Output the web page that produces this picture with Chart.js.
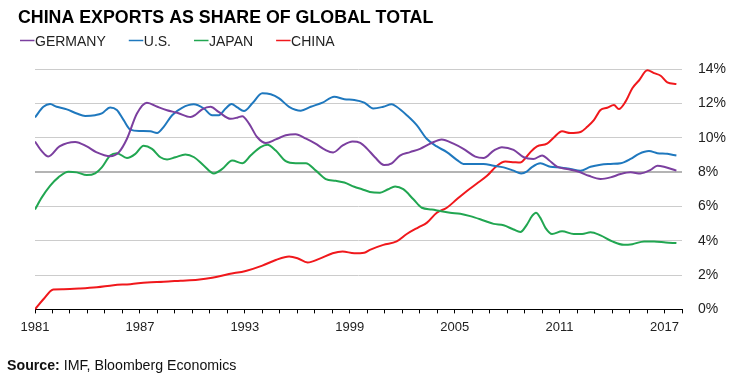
<!DOCTYPE html>
<html>
<head>
<meta charset="utf-8">
<script src="https://cdn.jsdelivr.net/npm/chart.js@4/dist/chart.umd.min.js"></script>
<style>
  html, body { margin: 0; padding: 0; background: #fff; }
  #wrap { width: 735px; height: 390px; position: relative; }
</style>
</head>
<body>
<div id="wrap"><canvas id="c" width="735" height="390"></canvas></div>
<script>
// ---- Data ----
const chartTitle = 'CHINA EXPORTS AS SHARE OF GLOBAL TOTAL';
const seriesNames = ['GERMANY', 'U.S.', 'JAPAN', 'CHINA'];
const xTickLabels = [1981, 1987, 1993, 1999, 2005, 2011, 2017];
const yTickValues = [0, 2, 4, 6, 8, 10, 12, 14];

const germanyYears = [1981.0, 1981.4, 1981.76, 1982.4, 1983.3, 1983.96, 1984.5, 1985.3, 1985.8, 1986.26,
  1986.83, 1987.4, 1988.0, 1988.55, 1989.13, 1989.9, 1990.2, 1990.56, 1991.04, 1991.5,
  1992.19, 1992.6, 1992.85, 1993.24, 1993.7, 1994.2, 1994.77, 1995.34, 1995.9, 1996.5,
  1997.04, 1997.6, 1998.05, 1998.6, 1999.16, 1999.6, 2000.0, 2000.44, 2000.96, 2001.4,
  2001.87, 2002.45, 2003.02, 2003.6, 2004.26, 2004.93, 2005.5, 2006.18, 2006.65, 2007.23,
  2007.7, 2008.37, 2008.95, 2009.5, 2010.0, 2010.38, 2010.85, 2011.43, 2012.1, 2012.67,
  2013.34, 2013.91, 2014.49, 2015.06, 2015.63, 2016.2, 2016.59, 2016.97, 2017.68];
const germanyValues = [9.78, 9.2, 8.9, 9.49, 9.75, 9.49, 9.16, 8.92, 9.16, 9.94,
  11.41, 12.04, 11.8, 11.6, 11.45, 11.2, 11.35, 11.65, 11.8, 11.5,
  11.1, 11.18, 11.25, 10.82, 10.04, 9.69, 9.9, 10.14, 10.2, 9.94,
  9.65, 9.29, 9.14, 9.55, 9.78, 9.7, 9.35, 8.86, 8.41, 8.51,
  8.96, 9.16, 9.35, 9.65, 9.9, 9.65, 9.35, 8.9, 8.82, 9.25,
  9.45, 9.29, 8.86, 8.76, 8.96, 8.7, 8.31, 8.18, 8.02, 7.78,
  7.6, 7.69, 7.88, 7.98, 7.92, 8.12, 8.37, 8.31, 8.08];

const usYears = [1981.0, 1981.48, 1981.86, 1982.24, 1982.82, 1983.39, 1983.87, 1984.44, 1984.82, 1985.3,
  1985.68, 1986.07, 1986.45, 1987.02, 1987.6, 1987.98, 1988.36, 1988.84, 1989.41, 1990.08,
  1990.66, 1991.13, 1991.52, 1991.9, 1992.24, 1992.57, 1992.95, 1993.43, 1994.0, 1994.48,
  1994.96, 1995.53, 1996.2, 1996.77, 1997.44, 1998.11, 1998.69, 1999.26, 1999.83, 2000.34,
  2000.92, 2001.4, 2001.68, 2002.26, 2002.83, 2003.4, 2003.98, 2004.55, 2005.12, 2005.5,
  2006.08, 2006.65, 2007.23, 2007.8, 2008.37, 2008.8, 2009.14, 2009.4, 2009.9, 2010.47,
  2011.05, 2011.62, 2012.19, 2012.77, 2013.34, 2013.91, 2014.49, 2015.06, 2015.54, 2016.11,
  2016.59, 2017.16, 2017.68];
const usValues = [11.18, 11.8, 11.96, 11.8, 11.65, 11.41, 11.27, 11.31, 11.41, 11.76,
  11.61, 11.02, 10.47, 10.39, 10.37, 10.27, 10.63, 11.31, 11.74, 11.94,
  11.7, 11.31, 11.31, 11.7, 11.96, 11.76, 11.55, 12.0, 12.59, 12.53,
  12.29, 11.8, 11.57, 11.8, 12.04, 12.39, 12.24, 12.2, 12.04, 11.7,
  11.8, 11.94, 11.8, 11.31, 10.73, 9.94, 9.49, 9.16, 8.71, 8.47,
  8.47, 8.47, 8.37, 8.27, 8.08, 7.92, 8.04, 8.27, 8.51, 8.31,
  8.27, 8.18, 8.08, 8.31, 8.43, 8.47, 8.51, 8.76, 9.06, 9.22,
  9.1, 9.06, 8.96];

const japanYears = [1981.0, 1981.38, 1981.86, 1982.34, 1982.91, 1983.39, 1983.96, 1984.44, 1984.82, 1985.3,
  1985.68, 1986.26, 1986.74, 1987.21, 1987.69, 1988.17, 1988.55, 1989.03, 1989.6, 1990.1,
  1990.66, 1991.23, 1991.71, 1992.28, 1992.85, 1993.33, 1993.9, 1994.29, 1994.77, 1995.34,
  1995.91, 1996.49, 1997.06, 1997.63, 1998.2, 1998.69, 1999.26, 1999.7, 2000.15, 2000.73,
  2001.2, 2001.59, 2002.06, 2002.64, 2003.12, 2003.69, 2004.17, 2004.74, 2005.32, 2005.89,
  2006.65, 2007.23, 2007.8, 2008.37, 2008.76, 2009.13, 2009.42, 2009.65, 2009.9, 2010.19,
  2010.57, 2011.14, 2011.81, 2012.29, 2012.77, 2013.34, 2014.01, 2014.68, 2015.16, 2015.83,
  2016.4, 2017.07, 2017.68];
const japanValues = [5.82, 6.51, 7.2, 7.69, 8.02, 7.98, 7.82, 7.92, 8.27, 8.96,
  9.1, 8.82, 9.06, 9.53, 9.35, 8.86, 8.73, 8.86, 9.02, 8.86,
  8.37, 7.92, 8.18, 8.67, 8.51, 8.96, 9.45, 9.59, 9.25, 8.63,
  8.51, 8.51, 8.08, 7.59, 7.49, 7.39, 7.14, 7.0, 6.84, 6.8,
  7.0, 7.16, 7.0, 6.41, 5.92, 5.82, 5.73, 5.63, 5.57, 5.43,
  5.18, 4.98, 4.9, 4.65, 4.51, 4.94, 5.43, 5.63, 5.33, 4.75,
  4.39, 4.55, 4.39, 4.39, 4.49, 4.31, 3.96, 3.76, 3.8, 3.96,
  3.96, 3.9, 3.86];

const chinaYears = [1981.0, 1981.48, 1982.05, 1982.63, 1983.58, 1984.54, 1985.49, 1986.45, 1987.41, 1988.36,
  1989.32, 1990.3, 1991.13, 1992.09, 1993.05, 1994.0, 1994.77, 1995.53, 1996.01, 1996.59,
  1997.25, 1998.02, 1998.59, 1999.26, 1999.83, 2000.15, 2000.92, 2001.68, 2002.26, 2002.93,
  2003.4, 2003.98, 2004.55, 2005.12, 2005.7, 2006.27, 2006.85, 2007.42, 2007.9, 2008.4,
  2008.75, 2009.04, 2009.33, 2009.71, 2010.28, 2010.66, 2011.14, 2011.62, 2012.19, 2012.58,
  2012.96, 2013.34, 2013.72, 2014.11, 2014.39, 2014.77, 2015.16, 2015.54, 2016.02, 2016.4,
  2016.78, 2017.16, 2017.68];
const chinaValues = [0.0, 0.59, 1.16, 1.18, 1.22, 1.29, 1.41, 1.47, 1.57, 1.61,
  1.67, 1.73, 1.84, 2.06, 2.24, 2.55, 2.88, 3.08, 2.98, 2.73,
  2.94, 3.27, 3.37, 3.27, 3.3, 3.47, 3.76, 3.96, 4.39, 4.78,
  5.04, 5.63, 5.92, 6.41, 6.9, 7.33, 7.78, 8.37, 8.61, 8.57,
  8.55, 8.8, 9.16, 9.49, 9.65, 10.0, 10.37, 10.27, 10.33, 10.63,
  11.02, 11.61, 11.74, 11.9, 11.67, 12.1, 12.88, 13.33, 13.92, 13.76,
  13.61, 13.22, 13.12];

const seriesColors = ['#7b3f9f', '#1f78be', '#21a651', '#f0181c'];

// ---- Build datasets ----
function toPoints(xs, ys) { return xs.map((x, i) => ({ x: x, y: ys[i] })); }
const allYears = [germanyYears, usYears, japanYears, chinaYears];
const allValues = [germanyValues, usValues, japanValues, chinaValues];
const datasets = seriesNames.map((name, i) => ({
  label: name,
  data: toPoints(allYears[i], allValues[i]),
  borderColor: seriesColors[i],
  backgroundColor: seriesColors[i],
  borderWidth: 2,
  pointRadius: 0,
  fill: false,
  cubicInterpolationMode: 'monotone'
}));

const FONT = '"Liberation Sans", Arial, sans-serif';

const decorPlugin = {
  id: 'decor',
  afterDraw(chart) {
    const ctx = chart.ctx;
    ctx.save();
    // Title
    ctx.fillStyle = '#000';
    ctx.textBaseline = 'alphabetic';
    ctx.textAlign = 'left';
    ctx.font = 'bold 17.8px ' + FONT;
    ctx.fillText(chartTitle, 18, 22.5);
    // Legend
    ctx.font = '14px ' + FONT;
    let x = 20;
    seriesNames.forEach((name, i) => {
      ctx.strokeStyle = seriesColors[i];
      ctx.lineWidth = 1.5;
      ctx.beginPath();
      ctx.moveTo(x, 40.5);
      ctx.lineTo(x + 14.5, 40.5);
      ctx.stroke();
      ctx.fillStyle = '#222';
      ctx.fillText(name, x + 15, 45.5);
      x += 15 + ctx.measureText(name).width + 23;
    });
    // Source
    ctx.fillStyle = '#111';
    ctx.font = 'bold 14.2px ' + FONT;
    ctx.fillText('Source:', 7, 370);
    const w = ctx.measureText('Source:').width;
    ctx.font = '14.2px ' + FONT;
    ctx.fillText(' IMF, Bloomberg Economics', 7 + w, 370);
    ctx.restore();
  }
};

new Chart(document.getElementById('c'), {
  type: 'line',
  data: { datasets: datasets },
  options: {
    responsive: false,
    animation: false,
    devicePixelRatio: 1,
    layout: { padding: { top: 69, left: 35, right: 9, bottom: 49 } },
    plugins: { legend: { display: false }, title: { display: false }, tooltip: { enabled: false } },
    scales: {
      x: {
        type: 'linear',
        min: 1981,
        max: 2018,
        grid: { drawOnChartArea: false, drawTicks: true, tickLength: 4, color: '#000', lineWidth: 1 },
        border: { display: true, color: '#000', width: 1 },
        ticks: {
          stepSize: 1,
          autoSkip: false,
          maxRotation: 0,
          padding: 6,
          color: '#222',
          font: { family: FONT, size: 13 },
          callback: (v) => xTickLabels.includes(v) ? String(v) : ''
        }
      },
      y: {
        position: 'right',
        min: 0,
        max: 14,
        afterFit: (axis) => { axis.width = 44; },
        grid: {
          drawTicks: false,
          color: (c) => c.tick.value === 0 ? 'rgba(0,0,0,0)' : (c.tick.value === 8 ? '#b4b4b4' : '#cccccc'),
          lineWidth: (c) => c.tick.value === 8 ? 2 : 1
        },
        border: { display: false },
        afterBuildTicks: (axis) => { axis.ticks = yTickValues.map(v => ({ value: v })); },
        ticks: {
          padding: 16,
          color: '#222',
          font: { family: FONT, size: 14 },
          callback: (v) => v + '%'
        }
      }
    }
  },
  plugins: [decorPlugin]
});
</script>
</body>
</html>
